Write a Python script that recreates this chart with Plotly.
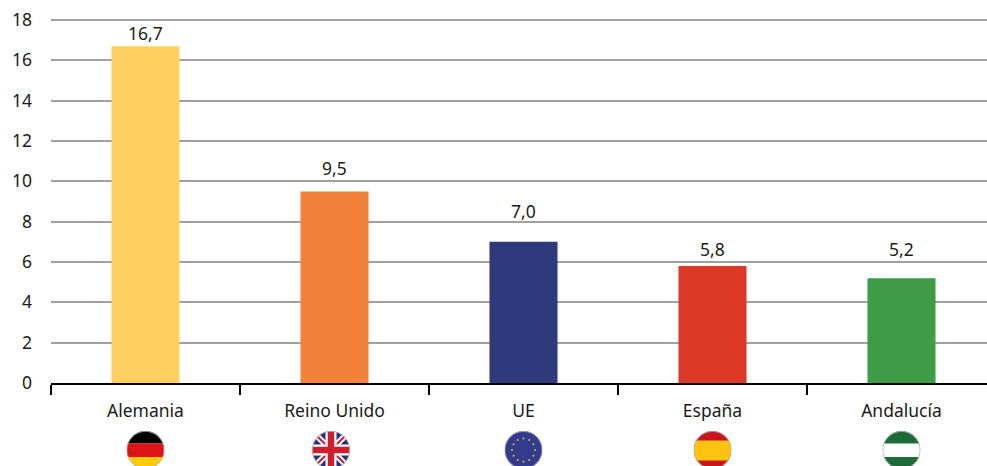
import base64
import math
import plotly.graph_objects as go

categories = ["Alemania", "Reino Unido", "UE", "España", "Andalucía"]
values = [16.7, 9.5, 7.0, 5.8, 5.2]
bar_colors = ["#FFD061", "#F28239", "#2F3A7D", "#DB3925", "#3E9C46"]
label_gaps_px = [13, 23, 31, 17, 29]
flag_nudges_px = [0, -3.5, 0, 0, 0]
y_ticks = [0, 2, 4, 6, 8, 10, 12, 14, 16, 18]
FONT = "Noto Sans"
SIZE = 17.5
TEXT = "#1a1a1a"
W, H = 987, 466
L, B = 51, 83
y_top = 18.1
per_unit = 363 / 18
T = 20 - (y_top - 18) * per_unit
plot_h = H - T - B
step = 189
x_range = [-0.5, -0.5 + (W - L) / step]


def wrap(body):
    svg = ('<svg xmlns="http://www.w3.org/2000/svg" xmlns:xlink="http://www.w3.org/1999/xlink" '
           'width="152" height="152" viewBox="0 0 38 38"><defs><clipPath id="c"><circle cx="19" cy="19" r="18.9"/>'
           '</clipPath></defs><g clip-path="url(#c)">' + body + '</g>'
           '<circle cx="19" cy="19" r="18.6" fill="none" stroke="#b5b5b5" stroke-width="0.8"/></svg>')
    return "data:image/svg+xml;base64," + base64.b64encode(svg.encode()).decode()


def stars():
    out = ""
    for i in range(12):
        a = math.radians(30 * i)
        out += f'<circle cx="{19 + 11.5 * math.sin(a):.2f}" cy="{19 - 11.5 * math.cos(a):.2f}" r="1" fill="#E8B93A"/>'
    return out


flags = [
    wrap('<rect width="38" height="12.5" fill="#000"/><rect y="12.5" width="38" height="13.5" fill="#DD1316"/>'
         '<rect y="26" width="38" height="12" fill="#FFCB0B"/>'),
    wrap('<rect width="38" height="38" fill="#2B2F7B"/>'
         '<path d="M0 0L38 38M38 0L0 38" stroke="#fff" stroke-width="6"/>'
         '<path d="M0 0L38 38M38 0L0 38" stroke="#CE1F2E" stroke-width="2"/>'
         '<path d="M19 0V38M0 19H38" stroke="#fff" stroke-width="11"/>'
         '<path d="M19 0V38M0 19H38" stroke="#CE1F2E" stroke-width="6.5"/>'),
    wrap('<rect width="38" height="38" fill="#333B8F"/>' + stars()),
    wrap('<rect width="38" height="38" fill="#C9171B"/><rect y="9.5" width="38" height="20" fill="#FFC20E"/>'),
    wrap('<rect width="38" height="38" fill="#1E6B3A"/><rect y="12.5" width="38" height="13.5" fill="#fff"/>'),
]

fig = go.Figure(go.Bar(
    x=categories, y=values, marker=dict(color=bar_colors, line_width=0), hoverinfo="skip",
))
for c, v, gap in zip(categories, values, label_gaps_px):
    fig.add_annotation(x=c, y=v, text=f"{v:.1f}".replace(".", ","), showarrow=False, yanchor="middle",
                       yshift=gap, font=dict(family=FONT, size=SIZE, color=TEXT))
images = []
for i, src in enumerate(flags):
    images.append(dict(source=src, xref="paper", yref="paper",
                       x=((i + 0.5) * step + flag_nudges_px[i]) / (W - L), y=(383 - 450) / plot_h,
                       sizex=38 / (W - L), sizey=38 / plot_h,
                       xanchor="center", yanchor="middle", sizing="contain", layer="above"))
fig.update_layout(
    width=W, height=H, margin=dict(l=L, r=0, t=T, b=B, pad=0),
    autosize=False, showlegend=False, bargap=0.64,
    paper_bgcolor="white", plot_bgcolor="white",
    font=dict(family=FONT, size=SIZE, color=TEXT), images=images,
    xaxis=dict(type="category", range=x_range, tickson="boundaries", ticks="outside", ticklen=10,
               tickwidth=2, tickcolor="black", showline=True, linecolor="black", linewidth=2,
               showgrid=False, zeroline=False, ticklabelstandoff=11),
    yaxis=dict(range=[0, y_top], tickvals=y_ticks, showgrid=True, gridcolor="#A0A0A0", gridwidth=1.5,
               zeroline=False, showline=False, ticks="", ticklabelstandoff=18),
)
fig.write_html("out.html", config=dict(displayModeBar=False),
               post_script="document.body.style.margin='0';document.body.style.overflow='hidden';")
